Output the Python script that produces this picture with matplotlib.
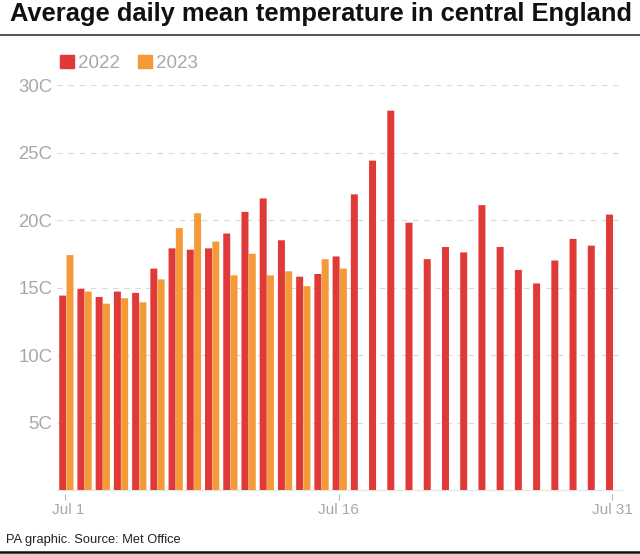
import matplotlib
matplotlib.use("Agg")
import matplotlib.pyplot as plt
from matplotlib.lines import Line2D
from matplotlib.patches import Patch
from matplotlib.transforms import blended_transform_factory, ScaledTranslation
import numpy as np

days = list(range(1, 32))
temps_2022 = [14.4,14.9,14.3,14.7,14.6,16.4,17.9,17.8,17.9,19.0,20.6,21.6,18.5,15.8,16.0,17.3,
              21.9,24.4,28.1,19.8,17.1,18.0,17.6,21.1,18.0,16.3,15.3,17.0,18.6,18.1,20.4]
temps_2023 = [17.4,14.7,13.8,14.2,13.9,15.6,19.4,20.5,18.4,15.9,17.5,15.9,16.2,15.1,17.1,16.4]
y_ticks = [5,10,15,20,25,30]
y_labels = ["5C","10C","15C","20C","25C","30C"]
x_ticks = [1,16,31]
x_labels = ["Jul 1","Jul 16","Jul 31"]
RED="#e03a38"; ORANGE="#f59a38"; GREY="#a8a8a8"

plt.rcParams['font.family'] = ['Liberation Sans','DejaVu Sans']
W,H=640,554
fig=plt.figure(figsize=(W/100,H/100),dpi=100)
L,R,T,B=57,622,85,490
ax=fig.add_axes([L/W,1-B/H,(R-L)/W,(B-T)/H])
step=(612-65.2)/30
ax.set_xlim(1-(65.2-L)/step,1+(R-65.2)/step)
ax.set_ylim(0,30)
bw=7.0/step
d=np.array(days)
ax.bar(d[:len(temps_2022)]-0.137,temps_2022,width=bw,color=RED,zorder=3,label="2022",snap=False,linewidth=0)
ax.bar(d[:len(temps_2023)]+0.263,temps_2023,width=bw,color=ORANGE,zorder=3,label="2023",snap=False,linewidth=0)
for s in ax.spines.values(): s.set_visible(False)
ax.spines['bottom'].set_visible(True); ax.spines['bottom'].set_color("#e6e6ea"); ax.spines['bottom'].set_linewidth(1)
ax.set_yticks(y_ticks); ax.set_yticklabels(y_labels,fontsize=13.3,color=GREY)
ax.set_xticks(x_ticks); ax.set_xticklabels(x_labels,fontsize=11,color=GREY)
ax.tick_params(axis='y',length=0,pad=3.5)
ax.tick_params(axis='x',length=0,pad=9.5)
first=ax.get_xticklabels()[0]
first.set_transform(first.get_transform()+ScaledTranslation(2.5/100,0,fig.dpi_scale_trans))
tr=blended_transform_factory(ax.transData,ax.transAxes)
ax.vlines(x_ticks,-10/(B-T),-4/(B-T),transform=tr,color="#b5b5b5",lw=0.8,clip_on=False)
ax.yaxis.grid(True,color="#d9d9dc",linestyle=(0,(5,5)),linewidth=0.8,zorder=0)
ax.set_axisbelow(True)
ax.legend(handles=[Patch(color=RED,label="2022"),Patch(color=ORANGE,label="2023")],
    loc='lower left',bbox_to_anchor=((60-L)/(R-L),(B-72)/(B-T)),ncol=2,frameon=False,fontsize=13.5,
    handlelength=0.75,handleheight=0.75,handletextpad=0.21,columnspacing=0.96,borderpad=0,borderaxespad=0,labelcolor=GREY)
fig.text(10/W,1-14/H,"Average daily mean temperature in central England",fontsize=18.35,fontweight='bold',color="#111111",va='center',ha='left')
fig.text(6/W,1-540/H,"PA graphic. Source: Met Office",fontsize=9.3,color="#222222",va='center',ha='left')
fig.add_artist(Line2D([0,1],[1-35/H]*2,color="#333333",lw=1.2,transform=fig.transFigure))
fig.add_artist(Line2D([0,1],[1-551.5/H]*2,color="#111111",lw=1.8,transform=fig.transFigure))
fig.savefig("out.png",dpi=100)
